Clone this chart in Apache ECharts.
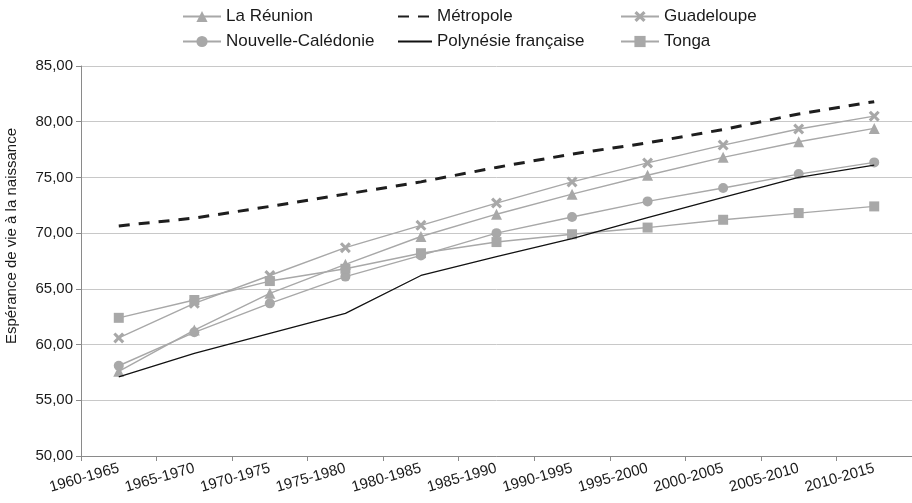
<!DOCTYPE html>
<html>
<head>
<meta charset="utf-8">
<script src="https://cdn.jsdelivr.net/npm/echarts@6/dist/echarts.min.js"></script>
<style>
html, body { margin: 0; padding: 0; background: #fff; }
#chart { width: 912px; height: 503px; }
</style>
</head>
<body>
<div id="chart"></div>
<script>
// périodes (axe x)
const periodes = ['1960-1965', '1965-1970', '1970-1975', '1975-1980', '1980-1985', '1985-1990',
    '1990-1995', '1995-2000', '2000-2005', '2005-2010', '2010-2015']

// espérance de vie à la naissance
const laReunion = [57.6, 61.3, 64.6, 67.2, 69.7, 71.7, 73.5, 75.2, 76.8, 78.2, 79.4]
const metropole = [70.65, 71.35, 72.4, 73.5, 74.6, 75.9, 77.1, 78.1, 79.3, 80.7, 81.8]
const guadeloupe = [60.6, 63.7, 66.2, 68.7, 70.7, 72.7, 74.6, 76.3, 77.9, 79.35, 80.5]
const nouvelleCaledonie = [58.1, 61.1, 63.7, 66.1, 68.0, 70.0, 71.45, 72.85, 74.05, 75.3, 76.35]
const polynesie = [57.1, 59.2, 61.0, 62.8, 66.2, 67.9, 69.5, 71.4, 73.2, 75.0, 76.1]
const tonga = [62.4, 64.0, 65.7, 66.8, 68.2, 69.2, 69.9, 70.5, 71.2, 71.8, 72.4]

const FONT = '"Liberation Sans", Arial, sans-serif'
const GRIS = '#a8a8a8'
const CROIX = 'path://M2,0L5,3L8,0L10,2L7,5L10,8L8,10L5,7L2,10L0,8L3,5L0,2Z'

const serieGrise = (name, data, symbol, size) => ({
    name: name,
    type: 'line',
    data: data,
    symbol: symbol,
    symbolSize: size,
    showAllSymbol: true,
    lineStyle: { color: GRIS, width: 1.4 },
    itemStyle: { color: GRIS },
    z: 2
})

const legende = (left, data, width) => ({
    orient: 'vertical',
    left: left,
    top: 8,
    padding: 0,
    itemWidth: width,
    itemHeight: 14,
    itemGap: 8,
    data: data,
    textStyle: { fontFamily: FONT, fontSize: 17, color: '#1a1a1a', lineHeight: 16 }
})

const myChart = echarts.init(document.getElementById('chart'), null, { renderer: 'canvas' })

const option = {
    animation: false,
    backgroundColor: '#fff',
    legend: [
        legende(182, ['La Réunion', 'Nouvelle-Calédonie'], 38),
        // pas de marqueur pour les deux courbes noires
        legende(397, [
            { name: 'Métropole', itemStyle: { opacity: 0 } },
            { name: 'Polynésie française', itemStyle: { opacity: 0 } }
        ], 34),
        legende(620, ['Guadeloupe', 'Tonga'], 38)
    ],
    grid: { left: 81, right: 0, top: 66, bottom: 47, outerBoundsMode: 'none' },
    xAxis: {
        type: 'category',
        data: periodes,
        boundaryGap: true,
        axisLine: { lineStyle: { color: '#8a8a8a', width: 1 } },
        axisTick: { show: true, length: 5, lineStyle: { color: '#8a8a8a' } },
        axisLabel: { rotate: 16, margin: 12, interval: 0, fontFamily: FONT, fontSize: 15, color: '#1a1a1a' },
        splitLine: { show: false }
    },
    yAxis: {
        type: 'value',
        min: 50,
        max: 85,
        interval: 5,
        name: 'Espérance de vie à la naissance',
        nameLocation: 'middle',
        nameGap: 62,
        nameTextStyle: { fontFamily: FONT, fontSize: 15, color: '#1a1a1a', padding: [0, 0, 0, 50] },
        axisLine: { show: true, lineStyle: { color: '#8a8a8a', width: 1 } },
        axisTick: { show: true, length: 5, lineStyle: { color: '#8a8a8a' } },
        axisLabel: {
            margin: 8,
            fontFamily: FONT,
            fontSize: 15,
            color: '#1a1a1a',
            formatter: v => v.toFixed(2).replace('.', ',')
        },
        splitLine: { lineStyle: { color: '#c8c8c8', width: 1 } }
    },
    series: [
        serieGrise('La Réunion', laReunion, 'triangle', 11),
        {
            name: 'Métropole',
            type: 'line',
            data: metropole,
            symbol: 'none',
            lineStyle: { color: '#1e1e1e', width: 3, type: [11, 9] },
            itemStyle: { color: '#1e1e1e' },
            z: 4
        },
        serieGrise('Guadeloupe', guadeloupe, CROIX, 11),
        serieGrise('Nouvelle-Calédonie', nouvelleCaledonie, 'circle', 10),
        {
            name: 'Polynésie française',
            type: 'line',
            data: polynesie,
            symbol: 'none',
            lineStyle: { color: '#111', width: 1.3 },
            itemStyle: { color: '#111' },
            z: 4
        },
        serieGrise('Tonga', tonga, 'rect', 10)
    ]
}

myChart.setOption(option)
</script>
</body>
</html>
